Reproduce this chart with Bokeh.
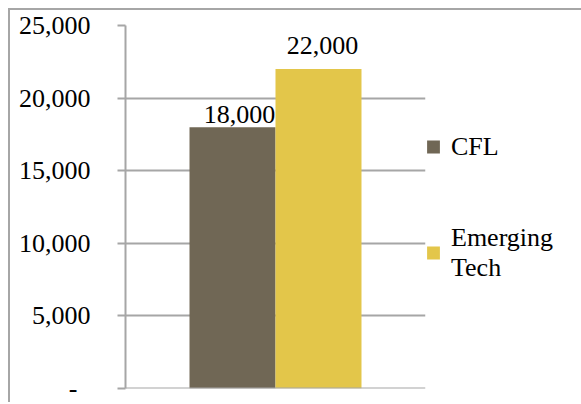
from bokeh.plotting import figure
from bokeh.models import ColumnDataSource, FactorRange, Range1d, FixedTicker, Legend, LegendItem, LabelSet, Span
from bokeh.transform import dodge
from bokeh.embed import file_html
from bokeh.resources import INLINE
from bokeh.core.properties import value

# ---- data ----
groups = ["Lighting"]
series = ["CFL", "Emerging\nTech"]
values = [18000, 22000]
bar_labels = ["18,000", "22,000"]
y_ticks = [0, 5000, 10000, 15000, 20000, 25000]
y_tick_labels = ["-\u00a0\u00a0", "5,000", "10,000", "15,000", "20,000", "25,000"]

colors = ["#706755", "#e3c64a"]
offsets = [-0.1433, 0.1433]
label_dx = [7, 4]
label_dy = [4, 15]
FONT = "Liberation Serif"
GRID = "#a6a6a6"

p = figure(frame_width=300, frame_height=363, x_range=FactorRange(*groups), y_range=Range1d(0, 25000),
           output_backend="svg", toolbar_location=None, tools="",
           min_border_left=115, min_border_top=15, min_border_bottom=14, min_border_right=0)
p.outline_line_color = None
p.xaxis.visible = False
p.xgrid.visible = False
p.ygrid.grid_line_color = GRID
p.ygrid.grid_line_width = 2
p.ygrid.ticker = FixedTicker(ticks=y_ticks)

ax = p.yaxis[0]
ax.ticker = FixedTicker(ticks=y_ticks)
ax.major_label_overrides = {t: l for t, l in zip(y_ticks, y_tick_labels)}
ax.axis_line_color = GRID
ax.axis_line_width = 2
ax.major_tick_line_color = GRID
ax.major_tick_line_width = 2
ax.major_tick_out = 8
ax.major_tick_in = 0
ax.minor_tick_line_color = None
ax.major_label_standoff = 27
ax.major_label_text_font = FONT
ax.major_label_text_font_size = "26px"
ax.major_label_text_color = "black"

# baseline at zero
p.add_layout(Span(location=y_ticks[0], dimension="width", line_color=GRID, line_width=2))

items = []
for i, name in enumerate(series):
    src = ColumnDataSource(dict(x=groups, top=[values[i]], label=[bar_labels[i]]))
    r = p.vbar(x=dodge("x", offsets[i], range=p.x_range), top="top", bottom=0, width=0.2867,
               source=src, fill_color=colors[i], line_color=None)
    items.append(LegendItem(label=name, renderers=[r]))
    p.add_layout(LabelSet(x=dodge("x", offsets[i], range=p.x_range), y="top", text="label", source=src,
                          text_font=value(FONT), text_font_size="26px", text_color="black",
                          text_align="center", text_baseline="alphabetic",
                          x_offset=label_dx[i], y_offset=label_dy[i]))

legend = Legend(items=items, location="center_left", orientation="vertical",
                label_text_font=FONT, label_text_font_size="26px", label_text_color="black",
                glyph_width=16, glyph_height=16, label_standoff=10, spacing=61,
                padding=0, margin=0, border_line_color=None, background_fill_alpha=0)
p.add_layout(legend, "right")

p.styles = {"margin-left": "8px", "margin-top": "8px",
            "border-left": "2px solid #a6a6a6", "border-top": "2px solid #a6a6a6"}

open("out.html", "w").write(file_html(p, INLINE))
